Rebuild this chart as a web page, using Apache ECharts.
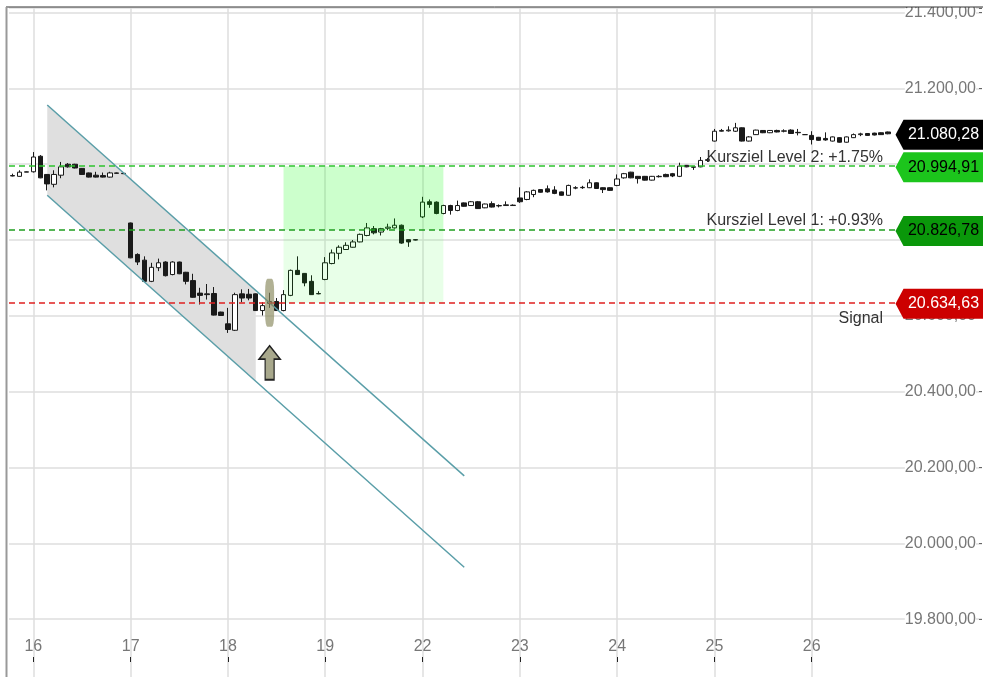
<!DOCTYPE html>
<html>
<head>
<meta charset="utf-8">
<script src="https://cdn.jsdelivr.net/npm/echarts@6/dist/echarts.min.js"></script>
<style>
html, body { margin: 0; padding: 0; background: #fff; }
#chart { width: 983px; height: 677px; }
</style>
</head>
<body>
<div id="chart"></div>
<script>
// hourly slots per trading day
const hours = ['08', '09', '10', '11', '12', '13', '14', '15', '16', '17', '18', '19', '20', '21']
const tickDays = ['16', '17', '18', '19', '22', '23', '24', '25', '26']

// candles (hourly), oldest first: 15th 19:00 ... 26th 19:00
const opens = [
  20970, 20968, 20979, 20980, 21021, 20973, 20947, 20971, 21000, 21000,
  20989, 20977, 20971, 20970, 20966, 20977, 20976, 20845, 20762, 20747,
  20691, 20727, 20742, 20709, 20742, 20715, 20693, 20660, 20658, 20659,
  20610, 20579, 20562, 20658, 20657, 20658, 20614, 20633, 20638, 20614,
  20654, 20720, 20712, 20691, 20659, 20696, 20738, 20765, 20775, 20781,
  20795, 20812, 20830, 20821, 20831, 20832, 20839, 20801, 20801, 20861,
  20901, 20900, 20870, 20891, 20878, 20898, 20891, 20901, 20885, 20896,
  20890, 20891, 20892, 20911, 20907, 20920, 20933, 20935, 20932, 20927,
  20918, 20937, 20938, 20938, 20951, 20938, 20938, 20944, 20964, 20979,
  20968, 20968, 20958, 20967, 20973, 20975, 20968, 20997, 20993, 20993,
  21010, 21061, 21087, 21088, 21087, 21096, 21061, 21078, 21089, 21083,
  21089, 21087, 21090, 21084, 21078, 21076, 21071, 21068, 21061, 21070,
  21058, 21070, 21078, 21081, 21082, 21083, 21085,
]
const closes = [
  20969, 20979, 20980, 21019, 20964, 20948, 20973, 20993, 20993, 20990,
  20973, 20966, 20966, 20966, 20977, 20976, 20975, 20753, 20742, 20691,
  20728, 20740, 20706, 20742, 20711, 20691, 20649, 20654, 20656, 20602,
  20601, 20564, 20656, 20647, 20647, 20614, 20627, 20638, 20614, 20656,
  20720, 20709, 20687, 20656, 20658, 20740, 20766, 20781, 20786, 20795,
  20815, 20832, 20819, 20830, 20834, 20839, 20792, 20795, 20800, 20900,
  20894, 20870, 20891, 20878, 20891, 20889, 20901, 20883, 20895, 20887,
  20891, 20893, 20891, 20901, 20927, 20931, 20926, 20927, 20923, 20918,
  20944, 20938, 20939, 20951, 20936, 20933, 20931, 20961, 20975, 20964,
  20962, 20958, 20968, 20968, 20967, 20969, 20995, 20993, 20992, 21010,
  21012, 21087, 21089, 21090, 21096, 21061, 21072, 21090, 21083, 21089,
  21085, 21088, 21081, 21083, 21078, 21065, 21063, 21064, 21072, 21058,
  21072, 21078, 21080, 21076, 21077, 21078, 21080.28,
]
const lows = [
  20968, 20967, 20979, 20978, 20963, 20931, 20939, 20963, 20991, 20989,
  20972, 20965, 20965, 20965, 20965, 20975, 20974, 20752, 20734, 20690,
  20689, 20718, 20704, 20707, 20710, 20683, 20648, 20630, 20643, 20601,
  20600, 20555, 20560, 20636, 20641, 20613, 20601, 20621, 20613, 20612,
  20652, 20708, 20678, 20655, 20657, 20694, 20736, 20749, 20774, 20780,
  20794, 20810, 20815, 20812, 20826, 20830, 20790, 20782, 20799, 20858,
  20885, 20868, 20868, 20867, 20876, 20888, 20890, 20882, 20884, 20886,
  20886, 20890, 20890, 20898, 20905, 20913, 20925, 20925, 20921, 20917,
  20917, 20934, 20935, 20937, 20935, 20924, 20930, 20942, 20962, 20963,
  20949, 20957, 20957, 20965, 20966, 20966, 20966, 20992, 20985, 20992,
  21006, 21060, 21086, 21086, 21085, 21060, 21060, 21077, 21082, 21082,
  21084, 21084, 21080, 21076, 21077, 21052, 21062, 21062, 21060, 21057,
  21057, 21069, 21074, 21075, 21076, 21077, 21079,
]
const highs = [
  20975, 20984, 20981, 21032, 21024, 20974, 20984, 21006, 21003, 21001,
  20990, 20978, 20980, 20978, 20980, 20978, 20976, 20846, 20765, 20757,
  20740, 20751, 20744, 20744, 20743, 20716, 20711, 20674, 20684, 20676,
  20611, 20621, 20661, 20670, 20671, 20659, 20636, 20661, 20647, 20668,
  20722, 20757, 20713, 20707, 20665, 20755, 20775, 20786, 20794, 20800,
  20817, 20845, 20837, 20832, 20843, 20857, 20841, 20802, 20802, 20914,
  20907, 20902, 20893, 20893, 20904, 20899, 20903, 20903, 20896, 20902,
  20894, 20902, 20894, 20939, 20929, 20933, 20934, 20944, 20942, 20928,
  20946, 20942, 20943, 20960, 20952, 20939, 20939, 20973, 20977, 20980,
  20969, 20969, 20969, 20971, 20975, 20977, 21004, 20998, 20994, 21019,
  21016, 21093, 21093, 21100, 21109, 21097, 21074, 21091, 21090, 21090,
  21091, 21092, 21092, 21093, 21079, 21087, 21072, 21084, 21073, 21071,
  21073, 21081, 21083, 21082, 21083, 21084, 21086,
]

// levels
const levelNames = ['Kursziel Level 2: +1.75%', 'Kursziel Level 1: +0.93%', 'Signal']
const levelValues = [20994.91, 20826.78, 20634.63]
const lastPrice = closes[closes.length - 1]

// signal candle and target zone (candle indices)
const signalIndex = 37
const zoneStart = 39
const zoneEnd = 62

// falling channel: start/end candle index and upper/lower line values
const channelX = [5, 65]
const channelUpper = [21156, 20178]
const channelLower = [20918, 19937]
const channelFillEnd = 35

// x categories: last 3 hours of the 15th, full days, then empty slots
const categories = []
hours.slice(11).forEach((h) => categories.push('15 ' + h))
tickDays.forEach((d) => hours.forEach((h) => categories.push(d + ' ' + h)))
hours.slice(0, 11).forEach((h) => categories.push('27 ' + h))

const isDayStart = (idx, name) => {
  const parts = String(name).split(' ')
  return parts[1] === '08' && tickDays.includes(parts[0])
}

const fmt = (v) => {
  const s = Number(v).toFixed(2).split('.')
  return s[0].replace(/\B(?=(\d{3})+(?!\d))/g, '.') + ',' + s[1]
}

const candles = opens.map((o, i) => [o, closes[i], lows[i], highs[i]])
const lastCat = categories.length - 1

const tagPath = 'path://M0,15 L8,0 L88,0 L88,30 L8,30 Z'
const arrowPath = 'path://M10.5,0 L21,13 L15,13 L15,33 L6,33 L6,13 L0,13 Z'

const tagColors = ['#1cc51c', '#0a970a', '#cc0000']
const tagText = ['#000', '#000', '#fff']
const lineColors = ['#2ec42e', '#1f9f1f', '#e02020']

const chart = echarts.init(document.getElementById('chart'))

const option = {
  animation: false,
  textStyle: { fontFamily: 'Liberation Sans, Arial, sans-serif' },
  grid: { left: 9, right: 1, top: 8, bottom: -18, outerBoundsMode: 'none', containLabel: false },
  xAxis: {
    type: 'category',
    data: categories,
    boundaryGap: true,
    offset: -33,
    axisLine: { show: false },
    axisTick: {
      show: true,
      inside: true,
      length: 5,
      alignWithLabel: true,
      interval: isDayStart,
      lineStyle: { color: '#222' },
    },
    axisLabel: {
      inside: true,
      interval: isDayStart,
      formatter: (v) => v.split(' ')[0],
      color: '#777',
      fontSize: 16,
      margin: 7,
    },
    splitLine: {
      show: true,
      interval: isDayStart,
      alignWithLabel: true,
      lineStyle: { color: '#dedede', width: 1.5 },
    },
  },
  yAxis: {
    type: 'value',
    position: 'right',
    min: 19600,
    max: 21412,
    interval: 200,
    axisLine: { show: false },
    axisTick: { show: true, inside: true, length: 3, lineStyle: { color: '#666' } },
    axisLabel: {
      inside: true,
      margin: 6,
      color: '#777',
      fontSize: 16,
      backgroundColor: '#fff',
      formatter: (v) => (v % 200 === 0 ? fmt(v) : ''),
    },
    splitLine: { lineStyle: { color: '#dedede', width: 1.5 } },
  },
  series: [
    {
      name: 'channel',
      type: 'custom',
      z: 1,
      silent: true,
      data: [[channelX[0], channelUpper[0]]],
      renderItem: (params, api) => {
        const u0 = api.coord([channelX[0], channelUpper[0]])
        const u1 = api.coord([channelX[1], channelUpper[1]])
        const l0 = api.coord([channelX[0], channelLower[0]])
        const l1 = api.coord([channelX[1], channelLower[1]])
        const t = (channelFillEnd - channelX[0]) / (channelX[1] - channelX[0])
        const lerp = (a, b) => [a[0] + (b[0] - a[0]) * t, a[1] + (b[1] - a[1]) * t]
        return {
          type: 'polygon',
          shape: { points: [u0, lerp(u0, u1), lerp(l0, l1), l0] },
          style: { fill: '#dfdfdf' },
        }
      },
      markLine: {
        silent: true,
        z: 4,
        symbol: ['none', 'none'],
        label: { show: false },
        lineStyle: { color: '#5a9ea8', width: 1.5, type: 'solid' },
        data: [
          [{ coord: [channelX[0], channelUpper[0]] }, { coord: [channelX[1], channelUpper[1]] }],
          [{ coord: [channelX[0], channelLower[0]] }, { coord: [channelX[1], channelLower[1]] }],
        ],
      },
    },
    {
      name: 'Kurs',
      type: 'candlestick',
      z: 2,
      barWidth: 5,
      data: candles,
      itemStyle: {
        color: '#fff',
        color0: '#1a1a1a',
        borderColor: '#1a1a1a',
        borderColor0: '#1a1a1a',
        borderWidth: 1,
      },
      markArea: {
        silent: true,
        z: 3,
        data: [
          [
            { coord: [zoneStart, levelValues[0]], itemStyle: { color: 'rgba(0,255,0,0.2)' } },
            { coord: [zoneEnd, levelValues[1]] },
          ],
          [
            { coord: [zoneStart, levelValues[1]], itemStyle: { color: 'rgba(0,255,0,0.09)' } },
            { coord: [zoneEnd, levelValues[2]] },
          ],
        ],
      },
      markLine: {
        silent: true,
        z: 5,
        symbol: ['none', 'none'],
        data: levelValues.map((v, i) => ({
          yAxis: v,
          lineStyle: { color: lineColors[i], width: 1.5, type: [6, 4] },
          label: {
            show: true,
            formatter: levelNames[i],
            position: i === 2 ? 'insideEndBottom' : 'insideEndTop',
            distance: [99, i === 2 ? 8 : 1],
            color: '#333',
            fontSize: 16,
          },
        })),
      },
      markPoint: {
        silent: true,
        z: 6,
        data: [
          {
            coord: [signalIndex, levelValues[2]],
            symbol: 'roundRect',
            symbolSize: [9, 48],
            symbolOffset: [0, 0],
            itemStyle: { color: 'rgba(135,135,90,0.65)' },
            label: { show: false },
          },
          {
            coord: [signalIndex, levelValues[2]],
            symbol: arrowPath,
            symbolSize: [21, 34],
            symbolOffset: [0, 60],
            itemStyle: { color: '#a8a88c', borderColor: '#222', borderWidth: 1.5 },
            label: { show: false },
          },
          {
            coord: [lastCat, lastPrice],
            value: lastPrice,
            itemStyle: { color: '#000' },
            label: { color: '#fff' },
          },
        ].concat(
          levelValues.map((v, i) => ({
            coord: [lastCat, v],
            value: v,
            itemStyle: { color: tagColors[i] },
            label: { color: tagText[i] },
          })),
        ),
        symbol: tagPath,
        symbolSize: [88, 30],
        symbolOffset: [-39, 1],
        symbolKeepAspect: false,
        label: {
          show: true,
          position: 'inside',
          offset: [4, 0],
          fontSize: 16,
          formatter: (p) => fmt(p.value),
        },
      },
    },
  ],
  graphic: [
    { type: 'rect', silent: true, z: 100, shape: { x: 0, y: 0, width: 983, height: 7 }, style: { fill: '#fff' } },
    { type: 'line', silent: true, z: 101, shape: { x1: 6, y1: 7, x2: 983, y2: 7 }, style: { stroke: '#333', lineWidth: 1 } },
    { type: 'line', silent: true, z: 101, shape: { x1: 6.5, y1: 7, x2: 6.5, y2: 677 }, style: { stroke: '#999', lineWidth: 2 } },
  ],
}

chart.setOption(option)
</script>
</body>
</html>
